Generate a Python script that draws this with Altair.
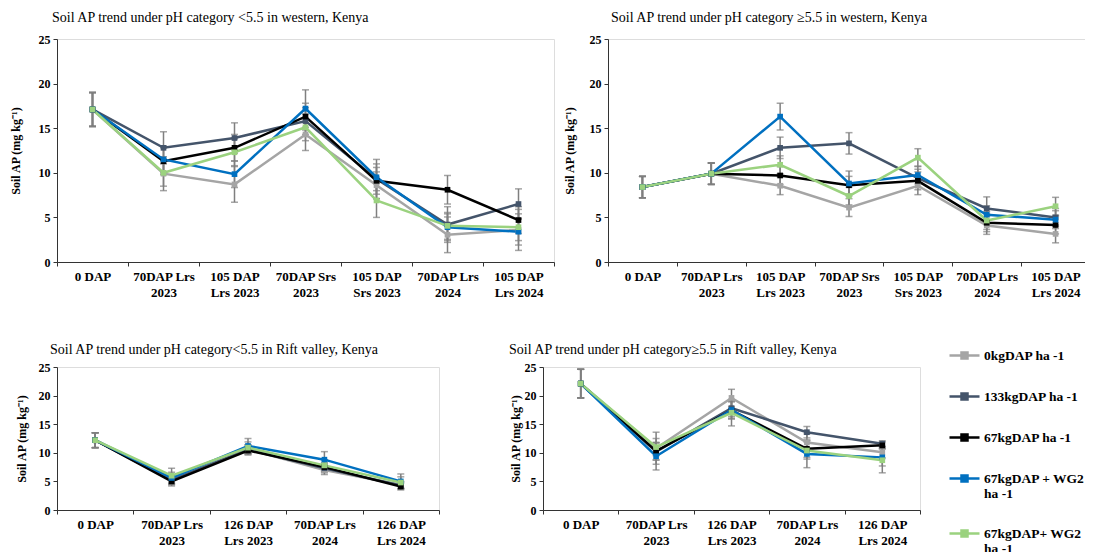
import altair as alt
import pandas as pd

FONT = "Liberation Serif"

SERIES = ["0kgDAP ha -1", " 133kgDAP ha -1", " 67kgDAP ha -1",
          "67kgDAP + WG2|ha -1", "67kgDAP+ WG2|ha -1"]
COLORS = ["#A5A5A5", "#44546A", "#000000", "#0070C0", "#9BD27F"]

CATS_W = ["0 DAP", "70DAP Lrs|2023", "105 DAP|Lrs 2023", "70DAP Srs|2023",
          "105 DAP|Srs 2023", "70DAP Lrs|2024", "105 DAP|Lrs 2024"]
CATS_R = ["0 DAP", "70DAP Lrs|2023", "126 DAP|Lrs 2023", "70DAP Lrs|2024",
          "126 DAP|Lrs 2024"]

# western, pH < 5.5
WL_VAL = {
    SERIES[0]: [17.1, 9.9, 8.7, 14.3, 8.6, 3.05, 3.6],
    SERIES[1]: [17.1, 12.8, 13.9, 15.8, 9.3, 4.2, 6.5],
    SERIES[2]: [17.1, 11.3, 12.8, 16.3, 9.1, 8.1, 4.7],
    SERIES[3]: [17.1, 11.5, 9.85, 17.2, 9.5, 3.9, 3.4],
    SERIES[4]: [17.1, 10.0, 12.3, 15.1, 6.9, 4.05, 3.9],
}
WL_ERR = {
    SERIES[0]: [1.9, 1.9, 2.0, 1.8, 1.5, 2.0, 2.3],
    SERIES[1]: [1.9, 1.8, 1.7, 1.5, 2.2, 2.0, 1.7],
    SERIES[2]: [1.9, 1.5, 1.5, 1.5, 1.5, 1.6, 1.5],
    SERIES[3]: [1.9, 1.5, 1.5, 2.1, 1.5, 1.5, 1.5],
    SERIES[4]: [1.9, 1.5, 1.5, 1.5, 1.9, 1.5, 1.5],
}
# western, pH >= 5.5
WH_VAL = {
    SERIES[0]: [8.4, 9.9, 8.55, 6.1, 8.55, 4.1, 3.15],
    SERIES[1]: [8.4, 9.9, 12.8, 13.3, 9.4, 6.0, 5.0],
    SERIES[2]: [8.4, 9.9, 9.7, 8.6, 9.1, 4.4, 4.15],
    SERIES[3]: [8.4, 9.9, 16.3, 8.8, 9.75, 5.3, 4.75],
    SERIES[4]: [8.4, 9.9, 10.9, 7.4, 11.7, 4.65, 6.25],
}
WH_ERR = {
    SERIES[0]: [1.2, 1.2, 1.0, 1.0, 1.0, 1.0, 1.0],
    SERIES[1]: [1.2, 1.2, 1.2, 1.2, 1.0, 1.3, 1.0],
    SERIES[2]: [1.2, 1.2, 1.0, 1.0, 1.0, 1.0, 1.0],
    SERIES[3]: [1.2, 1.2, 1.5, 1.4, 1.0, 1.0, 1.0],
    SERIES[4]: [1.2, 1.2, 1.0, 1.0, 1.0, 1.0, 1.0],
}
# Rift valley, pH < 5.5
RL_VAL = {
    SERIES[0]: [12.2, 5.3, 10.6, 7.0, 4.4],
    SERIES[1]: [12.2, 5.2, 10.6, 7.3, 4.3],
    SERIES[2]: [12.2, 5.0, 10.4, 7.5, 4.1],
    SERIES[3]: [12.2, 5.6, 11.2, 8.8, 5.0],
    SERIES[4]: [12.2, 6.0, 10.9, 7.8, 4.8],
}
RL_ERR = {
    SERIES[0]: [1.3, 0.8, 0.8, 0.8, 0.6],
    SERIES[1]: [1.3, 0.8, 0.8, 0.8, 0.6],
    SERIES[2]: [1.3, 0.8, 0.8, 0.8, 0.6],
    SERIES[3]: [1.3, 1.0, 1.3, 1.4, 1.3],
    SERIES[4]: [1.3, 1.3, 1.0, 1.0, 1.0],
}
# Rift valley, pH >= 5.5
RH_VAL = {
    SERIES[0]: [22.1, 10.8, 19.6, 11.8, 10.1],
    SERIES[1]: [22.1, 10.2, 17.8, 13.6, 11.6],
    SERIES[2]: [22.1, 10.3, 17.4, 10.7, 11.3],
    SERIES[3]: [22.1, 9.4, 17.5, 9.8, 9.2],
    SERIES[4]: [22.1, 11.0, 17.0, 10.4, 8.7],
}
RH_ERR = {
    SERIES[0]: [2.5, 2.8, 1.5, 1.5, 1.0],
    SERIES[1]: [2.5, 1.5, 1.5, 1.0, 0.5],
    SERIES[2]: [2.5, 1.5, 1.5, 1.5, 0.6],
    SERIES[3]: [2.5, 2.4, 1.5, 2.4, 1.5],
    SERIES[4]: [2.5, 1.5, 2.3, 1.5, 2.2],
}

TITLES = [
    "Soil AP trend  under pH category <5.5 in western, Kenya",
    "Soil AP trend  under pH category \u22655.5 in western, Kenya",
    "Soil AP trend under pH category<5.5 in Rift valley, Kenya",
    "Soil AP trend under pH category\u22655.5 in Rift valley, Kenya",
]
YTITLE = "Soil AP (mg kg\u207b\u00b9)"

LEG_PATH = "M-1,0H1M-0.2,-0.2H0.2V0.2H-0.2Z"


def panel(cats, vals, errs, title, w, h, tdx, toff, ytp, lh):
    rows = []
    for s in SERIES:
        for c, v, e in zip(cats, vals[s], errs[s]):
            rows.append({"cat": c, "series": s, "val": v, "lo": v - e, "hi": v + e})
    df = pd.DataFrame(rows)
    base = alt.Chart(df)
    x = alt.X("cat:N", sort=cats,
              scale=alt.Scale(type="band", paddingInner=0, paddingOuter=0),
              axis=alt.Axis(title=None, labelAngle=0, tickBand="extent",
                            labelExpr="datum.value ? split(datum.value, '|') : ''",
                            labelFont=FONT, labelFontSize=13, labelFontWeight="bold",
                            labelColor="#000", labelLineHeight=lh, labelPadding=4,
                            tickSize=4, domainColor="#333", tickColor="#333"))
    yscale = alt.Scale(domain=[0, 25], nice=False)
    yaxis = alt.Axis(title=YTITLE, values=[0, 5, 10, 15, 20, 25], grid=False,
                     labelFont=FONT, labelFontSize=12, labelFontWeight="bold",
                     labelColor="#000", titleFont=FONT, titleFontSize=12,
                     titleFontWeight="bold", titleColor="#000", titlePadding=ytp,
                     tickSize=4, labelPadding=3, domainColor="#333", tickColor="#333")
    color = alt.Color("series:N", scale=alt.Scale(domain=SERIES, range=COLORS),
                      legend=alt.Legend(title=None, orient="none", legendX=891, legendY=300,
                                        labelExpr="split(datum.label, '|')",
                                        labelFont=FONT, labelFontSize=13.5,
                                        labelFontWeight="bold", labelColor="#000",
                                        labelLimit=400, symbolType=LEG_PATH,
                                        symbolSize=900, symbolStrokeWidth=2.5,
                                        rowPadding=16, labelOffset=3))
    rule = base.mark_rule(color="#7F7F7F", strokeWidth=1.5).encode(
        x=x, y=alt.Y("lo:Q", scale=yscale, axis=yaxis), y2="hi:Q")
    tlo = base.mark_tick(color="#7F7F7F", size=7, thickness=1.5).encode(
        x=x, y=alt.Y("lo:Q", scale=yscale, axis=yaxis))
    thi = base.mark_tick(color="#7F7F7F", size=7, thickness=1.5).encode(
        x=x, y=alt.Y("hi:Q", scale=yscale, axis=yaxis))
    line = base.mark_line(strokeWidth=2.5).encode(
        x=x, y=alt.Y("val:Q", scale=yscale, axis=yaxis), color=color,
        detail="series:N")
    pts = base.mark_point(filled=True, size=32, opacity=1, shape="square").encode(
        x=x, y=alt.Y("val:Q", scale=yscale, axis=yaxis), color=color)
    return alt.layer(rule, tlo, thi, line, pts).properties(
        width=w, height=h,
        title=alt.TitleParams(title, anchor="start", frame="group", dx=tdx,
                              offset=toff, font=FONT, fontSize=14,
                              fontWeight="normal", color="#000"))


tl = panel(CATS_W, WL_VAL, WL_ERR, TITLES[0], 497, 223, -5, 8, 16, 16)
tr = panel(CATS_W, WH_VAL, WH_ERR, TITLES[1], 482, 223, 3, 8, 13, 16)
bl = panel(CATS_R, RL_VAL, RL_ERR, TITLES[2], 382, 143, -7, 4, 10, 16)
br = panel(CATS_R, RH_VAL, RH_ERR, TITLES[3], 377, 143, -34, 4, 2, 16)

row1 = alt.hconcat(tl, tr, spacing=7)
row2 = alt.hconcat(bl, br, spacing=68)
chart = alt.vconcat(row1, row2, spacing=42).properties(
    padding={"left": 0, "top": 2, "right": -6, "bottom": 0}
).configure_view(stroke=None).configure(background="white")

chart.save("out.html", embed_options={"renderer": "svg", "actions": False})
